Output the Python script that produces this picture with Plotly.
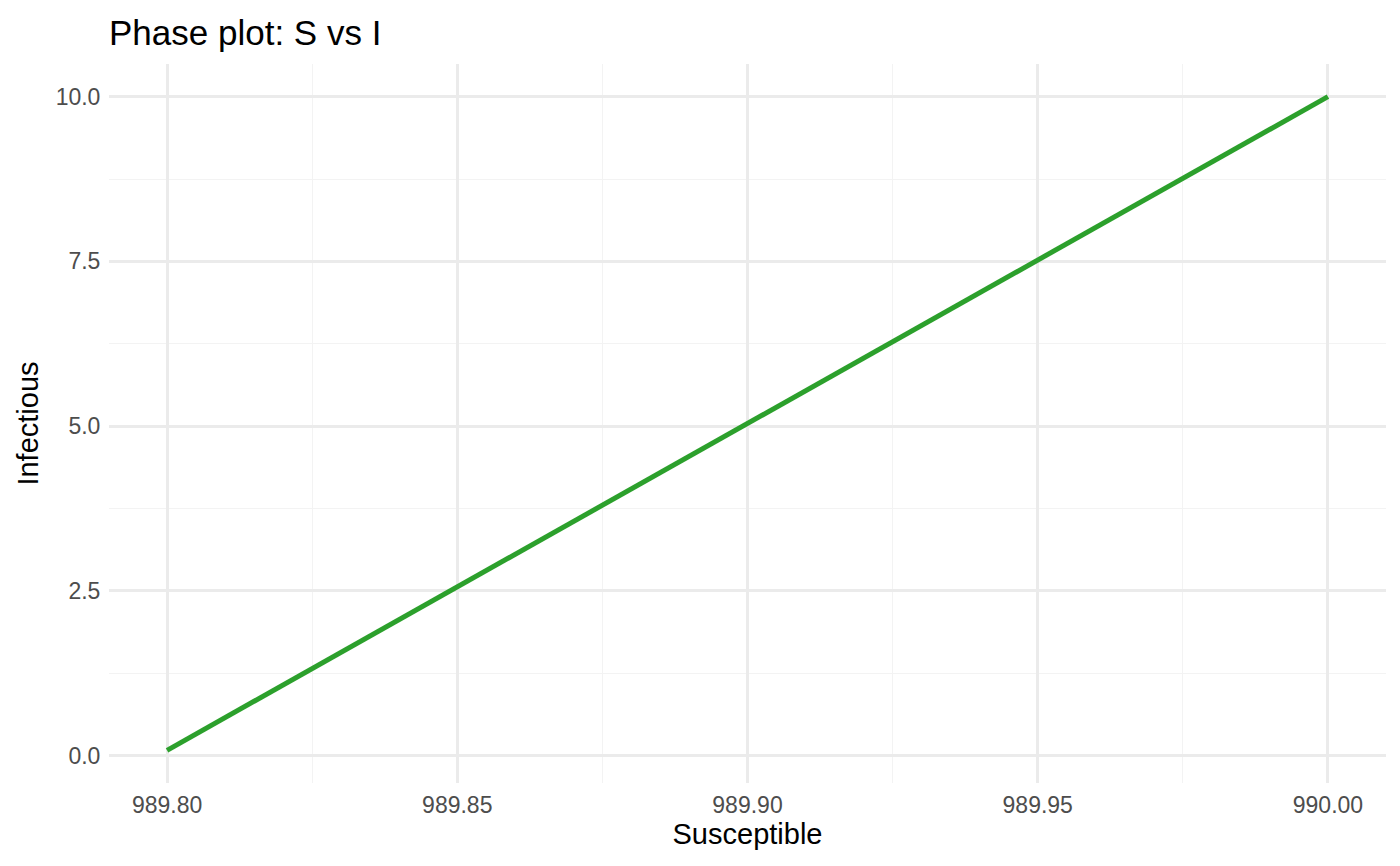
import plotly.graph_objects as go

# Data
susceptible = [990.00, 989.975, 989.95, 989.925, 989.90, 989.875, 989.85, 989.825, 989.80]
infectious = [10.0, 8.76, 7.52, 6.29, 5.05, 3.81, 2.57, 1.33, 0.08]

x_ticks = [989.80, 989.85, 989.90, 989.95, 990.00]
y_ticks = [0.0, 2.5, 5.0, 7.5, 10.0]

title_text = "Phase plot: S vs I"
x_title = "Susceptible"
y_title = "Infectious"

grid_major = "#EBEBEB"
grid_minor = "#F3F3F3"
font_family = "Liberation Sans, Arial, sans-serif"

fig = go.Figure()
fig.add_trace(go.Scatter(
    x=susceptible, y=infectious, mode="lines",
    line=dict(color="#2CA02C", width=5),
    showlegend=False, hoverinfo="skip",
))

W, H = 1400, 866
OFF = 7  # page body offset
L, R, T, B = 108 - OFF, 15 + OFF, 63 - OFF, 84 + OFF

fig.update_layout(
    width=W, height=H,
    margin=dict(l=L, r=R, t=T, b=B, pad=0),
    paper_bgcolor="white", plot_bgcolor="white",
    font=dict(family=font_family, color="black"),
    title=dict(text=title_text, x=L / W, xref="container", xanchor="left",
               y=1 - (32 - OFF) / H, yref="container", yanchor="middle",
               font=dict(size=35, color="black")),
    xaxis=dict(
        range=[989.79, 990.01], tickmode="array", tickvals=x_ticks,
        ticktext=[f"{v:.2f}" for v in x_ticks],
        showgrid=True, gridcolor=grid_major, gridwidth=2.5,
        zeroline=False, showline=False,
        ticks="outside", ticklen=1, tickcolor="rgba(0,0,0,0)",
        tickfont=dict(size=23, color="#4D4D4D"),
        minor=dict(tickvals=[989.825, 989.875, 989.925, 989.975],
                   showgrid=True, gridcolor=grid_minor, gridwidth=1.3, ticks=""),
        title=dict(text=x_title, font=dict(size=29, color="black"), standoff=3),
    ),
    yaxis=dict(
        range=[-0.416, 10.496], tickmode="array", tickvals=y_ticks,
        ticktext=[f"{v:.1f}" for v in y_ticks],
        showgrid=True, gridcolor=grid_major, gridwidth=2.5,
        zeroline=False, showline=False,
        ticks="outside", ticklen=3, tickcolor="rgba(0,0,0,0)",
        tickfont=dict(size=23, color="#4D4D4D"),
        minor=dict(tickvals=[1.25, 3.75, 6.25, 8.75],
                   showgrid=True, gridcolor=grid_minor, gridwidth=1.3, ticks=""),
        title=dict(text=y_title, font=dict(size=29, color="black"), standoff=8),
    ),
)

fig.write_html("out.html")
